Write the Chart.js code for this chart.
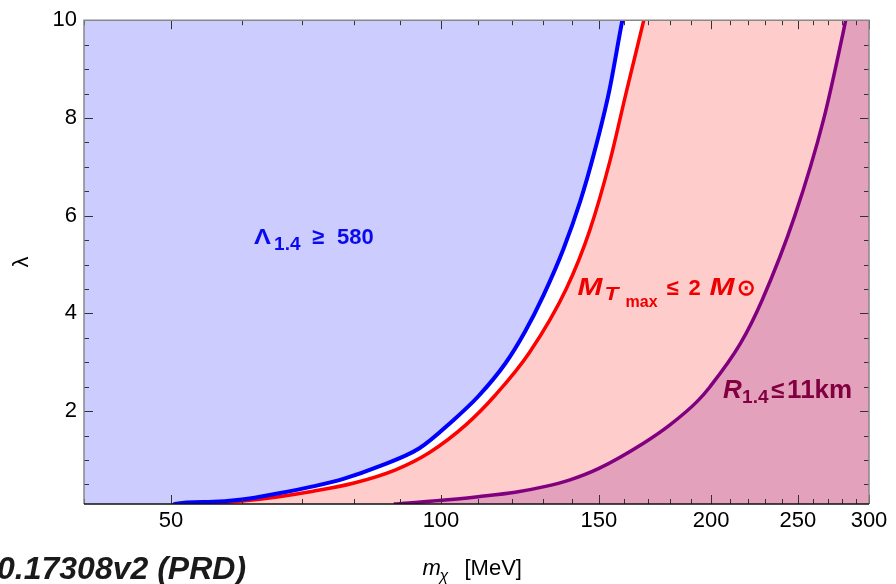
<!DOCTYPE html>
<html>
<head>
<meta charset="utf-8">
<script src="https://cdn.jsdelivr.net/npm/chart.js@4.4.0/dist/chart.umd.min.js"></script>
<style>
  html, body { margin: 0; padding: 0; background: #fff; }
</style>
</head>
<body>
<canvas id="myChart" width="896" height="584"></canvas>
<script>
// curves: m_chi [MeV] vs lambda
var tidalMass   = [40, 50, 50.5, 55, 60, 66, 72, 78, 85, 94.6, 103, 110, 118, 124, 130, 137, 143, 148, 154, 159.3, 166];
var tidalLambda = [0, 0, 0.1, 0.14, 0.19, 0.32, 0.46, 0.62, 0.86, 1.24, 1.8, 2.3, 2.98, 3.62, 4.36, 5.33, 6.3, 7.25, 8.55, 10, 11.5];

var massMass   = [54, 60, 66, 72, 80, 89, 97, 106.6, 115, 125.5, 137.9, 146.5, 154.2, 161, 168.3, 175, 300];
var massLambda = [0.1, 0.16, 0.25, 0.36, 0.53, 0.8, 1.15, 1.72, 2.33, 3.2, 4.5, 5.7, 7.1, 8.55, 10, 11.3, 11.3];

var radiusMass   = [88.6, 99.5, 110, 121, 130, 139, 150, 168, 180, 192.8, 199.5, 215.6, 228, 248, 267, 282.6, 292, 300];
var radiusLambda = [0.1, 0.17, 0.25, 0.34, 0.45, 0.59, 0.83, 1.34, 1.72, 2.19, 2.5, 3.38, 4.27, 6.0, 7.97, 10, 11.3, 11.3];

var xTickValues = [40, 50, 60, 70, 80, 90, 100, 110, 120, 130, 140, 150, 160, 170, 180, 190, 200,
                   210, 220, 230, 240, 250, 260, 270, 280, 290, 300];
var xTickLabels = [50, 100, 150, 200, 250, 300];
var yTickValues = [0.5, 1, 1.5, 2, 2.5, 3, 3.5, 4, 4.5, 5, 5.5, 6, 6.5, 7, 7.5, 8, 8.5, 9, 9.5, 10];
var yTickLabels = [2, 4, 6, 8, 10];

var FONT = "'Liberation Sans', Arial, sans-serif";

function toPoints(xs, ys) {
    return xs.map(function (x, i) { return { x: x, y: ys[i] }; });
}

// pieces of rich text, dx = offset from the anchor, sx = horizontal stretch
function drawParts(ctx, x, y, color, parts) {
    ctx.fillStyle = color;
    ctx.textAlign = 'left';
    ctx.textBaseline = 'alphabetic';
    parts.forEach(function (p) {
        ctx.save();
        ctx.font = p.font;
        ctx.translate(x + p.dx, y + (p.dy || 0));
        ctx.scale(p.sx || 1, 1);
        ctx.fillText(p.text, 0, 0);
        ctx.restore();
    });
}

var framePlugin = {
    id: 'frame',
    afterDraw: function (chart) {
        var ctx = chart.ctx;
        var a = chart.chartArea;
        var xs = chart.scales.x, ys = chart.scales.y;
        ctx.save();

        // inward ticks on all four sides
        ctx.strokeStyle = '#333';
        ctx.lineWidth = 1;
        ctx.beginPath();
        xTickValues.forEach(function (v) {
            var px = Math.round(xs.getPixelForValue(v)) + 0.5;
            var len = xTickLabels.indexOf(v) >= 0 ? 9 : 5;
            ctx.moveTo(px, a.bottom); ctx.lineTo(px, a.bottom - len);
            ctx.moveTo(px, a.top); ctx.lineTo(px, a.top + len);
        });
        yTickValues.forEach(function (v) {
            var py = Math.round(ys.getPixelForValue(v)) + 0.5;
            var len = yTickLabels.indexOf(v) >= 0 ? 9 : 5;
            ctx.moveTo(a.left, py); ctx.lineTo(a.left + len, py);
            ctx.moveTo(a.right, py); ctx.lineTo(a.right - len, py);
        });
        ctx.stroke();

        // frame
        ctx.lineWidth = 1.5;
        ctx.strokeStyle = '#888';
        ctx.beginPath();
        ctx.moveTo(a.left, a.bottom); ctx.lineTo(a.left, a.top);
        ctx.lineTo(a.right, a.top); ctx.lineTo(a.right, a.bottom);
        ctx.stroke();
        ctx.strokeStyle = '#111';
        ctx.beginPath();
        ctx.moveTo(a.left, a.bottom); ctx.lineTo(a.right, a.bottom);
        ctx.stroke();

        // region labels
        drawParts(ctx, xs.getPixelForValue(61.9), ys.getPixelForValue(5.43), '#0a0af0', [
            { text: 'Λ', font: 'bold 22px ' + FONT, dx: 0, sx: 1.15 },
            { text: '1.4', font: 'bold 19px ' + FONT, dx: 20, dy: 6 },
            { text: '≥', font: 'bold 22px ' + FONT, dx: 58 },
            { text: '580', font: 'bold 22px ' + FONT, dx: 83 }
        ]);
        drawParts(ctx, xs.getPixelForValue(142.0), ys.getPixelForValue(4.37), '#ee0000', [
            { text: 'M', font: 'italic bold 23px ' + FONT, dx: 0, sx: 1.3 },
            { text: 'T', font: 'italic bold 19px ' + FONT, dx: 27, dy: 5, sx: 1.2 },
            { text: 'max', font: 'bold 16px ' + FONT, dx: 48, dy: 12 },
            { text: '≤', font: 'bold 22px ' + FONT, dx: 89 },
            { text: '2', font: 'bold 22px ' + FONT, dx: 111 },
            { text: 'M', font: 'italic bold 23px ' + FONT, dx: 132, sx: 1.3 },
            { text: '⊙', font: 'bold 22px ' + FONT, dx: 159 }
        ]);
        drawParts(ctx, xs.getPixelForValue(206.3), ys.getPixelForValue(2.27), '#800040', [
            { text: 'R', font: 'italic bold 26px ' + FONT, dx: 0 },
            { text: '1.4', font: 'bold 19px ' + FONT, dx: 19, dy: 5 },
            { text: '≤', font: 'bold 24px ' + FONT, dx: 48 },
            { text: '11km', font: 'bold 26px ' + FONT, dx: 64 }
        ]);

        // x axis title: m_chi [MeV]
        var cx = (a.left + a.right) / 2 - 54;
        drawParts(ctx, cx, 575, '#000', [
            { text: 'm', font: 'italic 22px ' + FONT, dx: 0 },
            { text: 'χ', font: 'italic 16px ' + FONT, dx: 17, dy: 6 },
            { text: '[MeV]', font: '22px ' + FONT, dx: 42 }
        ]);

        // reference text at bottom left (cut by the page edge)
        ctx.font = 'italic bold 32px ' + FONT;
        ctx.fillStyle = '#1a1a1a';
        ctx.fillText('0.17308v2 (PRD)', -3, 579, 251);

        ctx.restore();
    }
};

var ctx = document.getElementById('myChart').getContext('2d');
var myChart = new Chart(ctx, {
    type: 'line',
    data: {
        datasets: [
            {
                label: 'Lambda_1.4 >= 580',
                data: toPoints(tidalMass, tidalLambda),
                borderColor: '#0000ff',
                backgroundColor: '#ccccff',
                borderWidth: 4,
                fill: 'end',
                order: 1
            },
            {
                label: 'M_Tmax <= 2 Msun',
                data: toPoints(massMass, massLambda),
                borderColor: '#ff0000',
                backgroundColor: '#ffcccc',
                borderWidth: 3.5,
                fill: 'start',
                order: 3
            },
            {
                label: 'R_1.4 <= 11km',
                data: toPoints(radiusMass, radiusLambda),
                borderColor: '#800080',
                backgroundColor: '#e4a1bb',
                borderWidth: 3.5,
                fill: 'start',
                order: 2
            }
        ]
    },
    options: {
        responsive: false,
        animation: false,
        layout: { padding: { left: 0, top: 18, right: 27, bottom: 0 } },
        elements: {
            point: { radius: 0 },
            line: { cubicInterpolationMode: 'monotone' }
        },
        plugins: {
            legend: { display: false },
            tooltip: { enabled: false }
        },
        scales: {
            x: {
                type: 'logarithmic',
                min: 40,
                max: 300,
                afterBuildTicks: function (scale) {
                    scale.ticks = xTickValues.map(function (v) { return { value: v }; });
                },
                ticks: {
                    autoSkip: false,
                    maxRotation: 0,
                    minRotation: 0,
                    padding: 4,
                    color: '#000',
                    font: { family: FONT, size: 22 },
                    callback: function (value) {
                        return xTickLabels.indexOf(value) >= 0 ? String(value) : '';
                    }
                },
                grid: { display: false, drawTicks: false },
                border: { display: false },
                afterFit: function (scale) { scale.height = 80; }
            },
            y: {
                type: 'linear',
                min: 0.1,
                max: 10,
                afterBuildTicks: function (scale) {
                    scale.ticks = yTickValues.map(function (v) { return { value: v }; });
                },
                ticks: {
                    autoSkip: false,
                    padding: 7,
                    color: '#000',
                    font: { family: FONT, size: 22 },
                    callback: function (value) {
                        return yTickLabels.indexOf(value) >= 0 ? String(value) : '';
                    }
                },
                title: {
                    display: true,
                    text: 'λ',
                    color: '#000',
                    font: { family: FONT, size: 22 },
                    padding: { top: 9, bottom: 0 }
                },
                grid: { display: false, drawTicks: false },
                border: { display: false },
                afterFit: function (scale) { scale.width = 84; }
            }
        }
    },
    plugins: [framePlugin]
});
</script>
</body>
</html>
